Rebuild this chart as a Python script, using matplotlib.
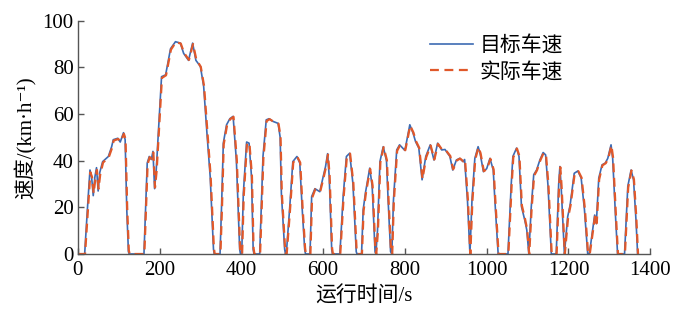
import matplotlib
matplotlib.use("Agg")
import matplotlib.pyplot as plt

# target speed (time s, speed km/h)
target_t = [0, 17, 24, 30, 34, 38, 42, 46, 50, 54, 61, 75, 83, 87, 98, 104, 112, 116, 120, 124, 126,
            162, 166, 170, 175, 180, 184, 188, 192, 199, 205, 215, 227, 239, 251, 259, 271, 281, 289,
            300, 308, 316, 324, 332, 334, 348, 352, 356, 364, 372, 380, 388, 396, 398, 401, 405, 413,
            419, 425, 429, 431, 445, 453, 461, 468, 478, 490, 495, 498, 506, 508, 510, 518, 526, 536,
            543, 549, 555, 557, 568, 572, 580, 592, 600, 606, 611, 615, 621, 623, 641, 649, 657, 665,
            673, 681, 683, 694, 698, 704, 714, 720, 727, 729, 733, 739, 747, 755, 759, 765, 768, 772,
            780, 787, 800, 812, 820, 826, 834, 842, 851, 862, 871, 880, 890, 898, 910, 917, 926, 934,
            942, 946, 953, 959, 964, 971, 979, 984, 992, 1000, 1008, 1016, 1020, 1028, 1052, 1060,
            1064, 1073, 1079, 1085, 1093, 1098, 1103, 1109, 1115, 1122, 1130, 1138, 1144, 1150, 1158,
            1170, 1176, 1179, 1182, 1190, 1198, 1204, 1214, 1223, 1231, 1239, 1247, 1251, 1259, 1264,
            1268, 1274, 1282, 1290, 1296, 1304, 1308, 1315, 1320, 1337, 1345, 1353, 1359, 1365, 1369]
target_v = [0, 0, 20, 36, 33, 25, 33, 37, 27, 35, 39.6, 41.8, 46, 49, 49.6, 48, 52, 49, 19, 1, 0,
            0, 20, 39, 41.8, 40.5, 44, 28, 36, 57.5, 76, 76.8, 88, 91, 90.4, 86, 83, 90.4, 83,
            80.4, 71.8, 51.8, 33, 2, 0, 0, 22, 47.5, 55.4, 58, 59, 40, 2, 0, 0, 26, 48,
            47.5, 33, 2, 0, 0, 41.8, 57.5, 58, 56.8, 56, 50, 26, 2, 0, 0, 19, 39.6, 41.8,
            39, 19, 2, 0, 0, 24.6, 28, 26.7, 33, 37.5, 43, 33, 2, 0, 0, 24.6, 41.8, 43.2,
            30, 1, 0, 0, 19, 26.7, 36.8, 29, 1, 0, 10, 39.6, 46, 40, 23, 1, 0, 23,
            44.6, 46.8, 44.4, 55.4, 51.8, 48.2, 45.4, 31.8, 41.8, 46.8, 40.3, 47.5, 44.6, 44.8, 41.8, 36, 40.3, 41,
            39.6, 40.5, 23, 0, 23, 41, 46, 43, 35.3, 36.6, 41, 36, 23, 0, 0, 30,
            41.8, 45.4, 41.8, 20.3, 14.6, 10.3, 0, 20.3, 34, 36, 40.3, 43.5, 42.5, 29, 0,
            0, 30, 37.5, 29, 0, 16, 21, 34.6, 35.6, 32.5, 19, 0, 0, 10.3, 16.7,
            13, 32.5, 38.2, 39, 41, 46.8, 41, 16, 0, 0, 29, 36, 31.8, 14.6, 0]

# actual speed, follows the target with a small lag
actual_t = [0, 18, 25, 31, 35, 39, 43, 47, 51, 55, 62, 76, 84, 88, 99, 105, 113, 117, 121, 125, 127,
            163, 167, 171, 176, 181, 185, 189, 193, 200, 206, 216, 228, 240, 252, 260, 272, 282, 290,
            301, 309, 317, 325, 333, 335, 349, 353, 357, 365, 373, 381, 389, 397, 399, 402, 406, 414,
            420, 426, 430, 432, 446, 454, 462, 469, 479, 491, 496, 499, 507, 509, 511, 519, 527, 537,
            544, 550, 556, 558, 569, 573, 581, 593, 601, 607, 612, 616, 622, 624, 642, 650, 658, 666,
            674, 682, 684, 695, 699, 705, 715, 721, 728, 730, 734, 740, 748, 756, 760, 766, 769, 773,
            781, 788, 801, 813, 821, 827, 835, 843, 852, 863, 872, 881, 891, 899, 911, 918, 927, 935,
            943, 947, 954, 960, 965, 972, 980, 985, 993, 1001, 1009, 1017, 1021, 1029, 1053, 1061,
            1065, 1074, 1080, 1086, 1094, 1099, 1104, 1110, 1116, 1123, 1131, 1139, 1145, 1151, 1159,
            1171, 1177, 1180, 1183, 1191, 1199, 1205, 1215, 1224, 1232, 1240, 1248, 1252, 1260, 1265,
            1269, 1275, 1283, 1291, 1297, 1305, 1309, 1316, 1321, 1338, 1346, 1354, 1360, 1366, 1370]
actual_v = [0, 0, 19, 35, 33, 26, 32, 36, 28, 34, 39.2, 41.5, 45.5, 48.6, 49.3, 48.2, 51.5, 49.2, 20, 1.5, 0,
            0, 19, 38.5, 41.5, 40.8, 43.5, 28.5, 35.5, 57, 75.5, 76.6, 87.6, 90.8, 90.2, 86.2, 83.2, 90, 83.4,
            80.2, 72, 52.5, 33.5, 2.5, 0, 0, 21, 47, 55, 57.8, 58.8, 40.5, 2.5, 0, 0, 25, 47.6,
            47.3, 33.5, 2.5, 0, 0, 41, 57, 57.8, 56.7, 55.8, 50.3, 26.5, 2.5, 0, 0, 18.5, 39.2, 41.6,
            39.2, 19.5, 2.5, 0, 0, 24, 27.8, 26.8, 32.6, 37.2, 42.6, 33.4, 2.5, 0, 0, 24, 41.4, 43,
            30.4, 1.5, 0, 0, 18.5, 26.5, 36.5, 29.4, 1.5, 0, 9.5, 39.2, 45.8, 40.2, 23.5, 1.5, 0, 22.5,
            44.2, 46.6, 44.5, 55, 52, 48.4, 45.5, 32.2, 41.4, 46.5, 40.5, 47.2, 44.7, 44.7, 42, 36.3, 40.1, 40.9,
            39.7, 40.4, 23.5, 0, 22.5, 40.6, 45.8, 43.2, 35.5, 36.5, 40.8, 36.2, 23.5, 0, 0, 29.5,
            41.4, 45.2, 42, 20.8, 14.8, 10.5, 0, 19.8, 33.6, 35.9, 40.1, 43.3, 42.6, 29.5, 0,
            0, 29.5, 37.2, 29.4, 0, 15.6, 20.8, 34.3, 35.5, 32.7, 19.5, 0, 0, 10, 16.4,
            13.2, 32, 38, 38.9, 40.8, 46.5, 41.3, 16.5, 0, 0, 28.5, 35.8, 32, 15, 0]

plt.rcParams['font.family'] = ['Liberation Serif', 'DejaVu Serif', 'Noto Sans CJK SC']

fig = plt.figure(figsize=(7.0, 3.09), dpi=100)
ax = fig.add_axes([0.111, 0.178, 0.818, 0.755])

ax.plot(target_t, target_v, color='#3d6bb3', lw=1.2, solid_joinstyle='round',
        label='目标车速')
ax.plot(actual_t, actual_v, color='#e0582a', lw=1.6, ls=(0, (4, 2.5)),
        dash_joinstyle='round', label='实际车速')

ax.set_xlim(0, 1400)
ax.set_ylim(0, 100)
ax.set_xticks(range(0, 1401, 200))
ax.set_yticks(range(0, 101, 20))
for s in ['top', 'right']:
    ax.spines[s].set_visible(False)
for s in ['left', 'bottom']:
    ax.spines[s].set_color('#555555')
    ax.spines[s].set_linewidth(1.0)
ax.tick_params(direction='in', length=4, width=1, color='#555555', labelsize=15, pad=3)
ax.tick_params(axis='x', pad=5)

ax.set_xlabel('运行时间/s', fontsize=15, labelpad=5)
ax.set_ylabel('速度/(km·h⁻¹)', fontsize=15, labelpad=4)

ax.legend(loc='upper left', bbox_to_anchor=(0.6, 0.97), frameon=False, fontsize=15,
          handlelength=2.1, handletextpad=0.3, labelspacing=0.3, borderaxespad=0)

plt.savefig('out.png', dpi=100)
